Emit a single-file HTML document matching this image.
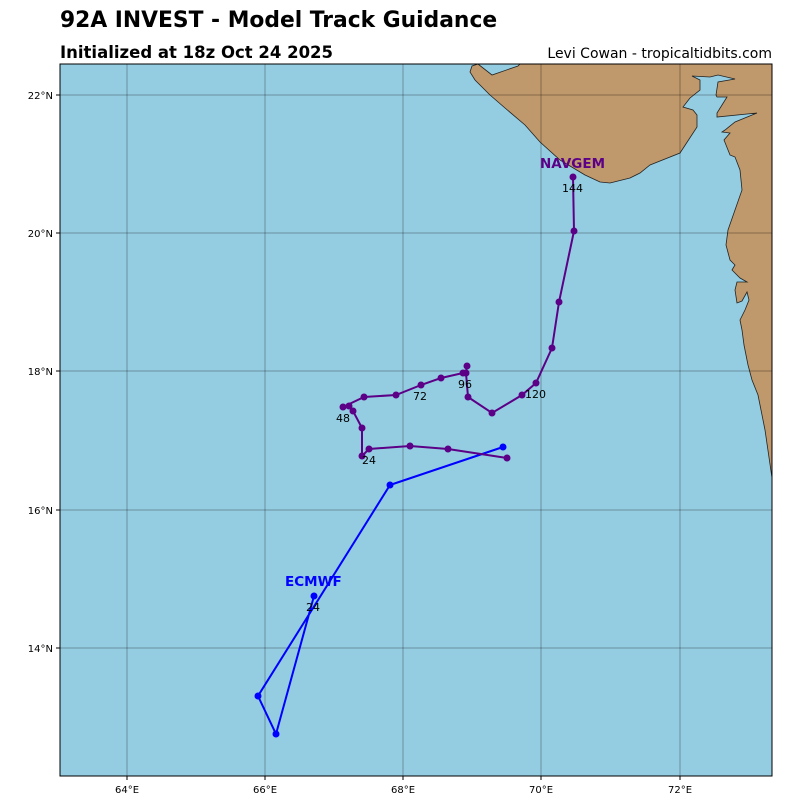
<!DOCTYPE html>
<html><head><meta charset="utf-8"><style>body{margin:0;background:#fff}svg{display:block}text{font-family:"DejaVu Sans","Liberation Sans",sans-serif}</style></head><body>
<svg width="800" height="800" viewBox="0 0 800 800" xmlns="http://www.w3.org/2000/svg">
<rect width="800" height="800" fill="#fff"/>
<text x="60" y="27" font-size="21.8" font-weight="bold">92A INVEST - Model Track Guidance</text>
<text x="60" y="58" font-size="16.5" font-weight="bold">Initialized at 18z Oct 24 2025</text>
<text x="772" y="58" font-size="14" text-anchor="end">Levi Cowan - tropicaltidbits.com</text>
<defs><clipPath id="c"><rect x="60" y="64" width="712" height="712"/></clipPath></defs>
<g clip-path="url(#c)">
<rect x="60" y="64" width="712" height="712" fill="#94cde2"/>
<polygon fill="#bf986b" stroke="#222" stroke-width="0.8" points="478,64 472,66 470,72 475,80 490,95 505,108 525,125 540,142 560,160 585,175 600,182 610,183 630,178 640,173 650,165 680,153 697,127 697,115 693,110 683,107 690,98 700,90 700,80 692,76 710,77 718,75 735,79 718,82 716,95 717,97 727,97 717,113 717,117 757,113 735,122 725,130 722,132 730,133 724,140 730,155 735,157 740,170 742,190 735,210 728,230 726,245 730,260 735,265 732,270 740,278 747,282 737,282 735,290 737,303 742,301 747,292 749,300 745,310 740,320 742,330 744,345 748,365 752,380 758,395 760,405 765,430 772,478 772,64 520,64 518,66 492,75"/>
<g stroke="#000" stroke-opacity="0.3" stroke-width="1">
<line x1="127" y1="64" x2="127" y2="776"/><line x1="265" y1="64" x2="265" y2="776"/><line x1="403" y1="64" x2="403" y2="776"/><line x1="541" y1="64" x2="541" y2="776"/><line x1="680" y1="64" x2="680" y2="776"/>
<line x1="60" y1="95" x2="772" y2="95"/><line x1="60" y1="233" x2="772" y2="233"/><line x1="60" y1="371" x2="772" y2="371"/><line x1="60" y1="510" x2="772" y2="510"/><line x1="60" y1="648" x2="772" y2="648"/>
</g>
<g fill="#0000ff">
<polyline fill="none" stroke="#0000ff" stroke-width="2" points="503,447 390,485 258,696 276,734 314,596"/>
<circle cx="503" cy="447" r="3.5"/><circle cx="390" cy="485" r="3.5"/><circle cx="258" cy="696" r="3.5"/><circle cx="276" cy="734" r="3.5"/><circle cx="314" cy="596" r="3.5"/>
</g>
<g fill="#5c0087">
<polyline fill="none" stroke="#5c0087" stroke-width="2" points="507,458 448,449 410,446 369,449 362,456 362,428 353,411 349,406 343,407 364,397 396,395 421,385 441,378 463,373 466,373 467,366 466,373 468,397 492,413 522,395 536,383 552,348 559,302 574,231 573,177"/>
<circle cx="507" cy="458" r="3.5"/><circle cx="448" cy="449" r="3.5"/><circle cx="410" cy="446" r="3.5"/><circle cx="369" cy="449" r="3.5"/><circle cx="362" cy="456" r="3.5"/><circle cx="362" cy="428" r="3.5"/><circle cx="353" cy="411" r="3.5"/><circle cx="349" cy="406" r="3.5"/><circle cx="343" cy="407" r="3.5"/><circle cx="364" cy="397" r="3.5"/><circle cx="396" cy="395" r="3.5"/><circle cx="421" cy="385" r="3.5"/><circle cx="441" cy="378" r="3.5"/><circle cx="463" cy="373" r="3.5"/><circle cx="466" cy="373" r="3.5"/><circle cx="467" cy="366" r="3.5"/><circle cx="468" cy="397" r="3.5"/><circle cx="492" cy="413" r="3.5"/><circle cx="522" cy="395" r="3.5"/><circle cx="536" cy="383" r="3.5"/><circle cx="552" cy="348" r="3.5"/><circle cx="559" cy="302" r="3.5"/><circle cx="574" cy="231" r="3.5"/><circle cx="573" cy="177" r="3.5"/>
</g>
<g font-size="11" fill="#000">
<text x="362" y="464">24</text><text x="336" y="422">48</text><text x="413" y="400">72</text><text x="458" y="388">96</text><text x="525" y="398">120</text><text x="562" y="192">144</text><text x="306" y="611">24</text>
</g>
<text x="540" y="168" font-size="13.5" font-weight="bold" fill="#5c0087">NAVGEM</text>
<text x="285" y="586" font-size="13.5" font-weight="bold" fill="#0000ff">ECMWF</text>
</g>
<rect x="60" y="64" width="712" height="712" fill="none" stroke="#000" stroke-width="1"/>
<g font-size="10" fill="#000">
<g stroke="#000"><line x1="127" y1="776" x2="127" y2="780"/><line x1="265" y1="776" x2="265" y2="780"/><line x1="403" y1="776" x2="403" y2="780"/><line x1="541" y1="776" x2="541" y2="780"/><line x1="680" y1="776" x2="680" y2="780"/>
<line x1="56" y1="95" x2="60" y2="95"/><line x1="56" y1="233" x2="60" y2="233"/><line x1="56" y1="371" x2="60" y2="371"/><line x1="56" y1="510" x2="60" y2="510"/><line x1="56" y1="648" x2="60" y2="648"/></g>
<text x="127" y="793" text-anchor="middle">64°E</text><text x="265" y="793" text-anchor="middle">66°E</text><text x="403" y="793" text-anchor="middle">68°E</text><text x="541" y="793" text-anchor="middle">70°E</text><text x="680" y="793" text-anchor="middle">72°E</text>
<text x="53" y="99" text-anchor="end">22°N</text><text x="53" y="237" text-anchor="end">20°N</text><text x="53" y="375" text-anchor="end">18°N</text><text x="53" y="514" text-anchor="end">16°N</text><text x="53" y="652" text-anchor="end">14°N</text>
</g>
</svg>
</body></html>
